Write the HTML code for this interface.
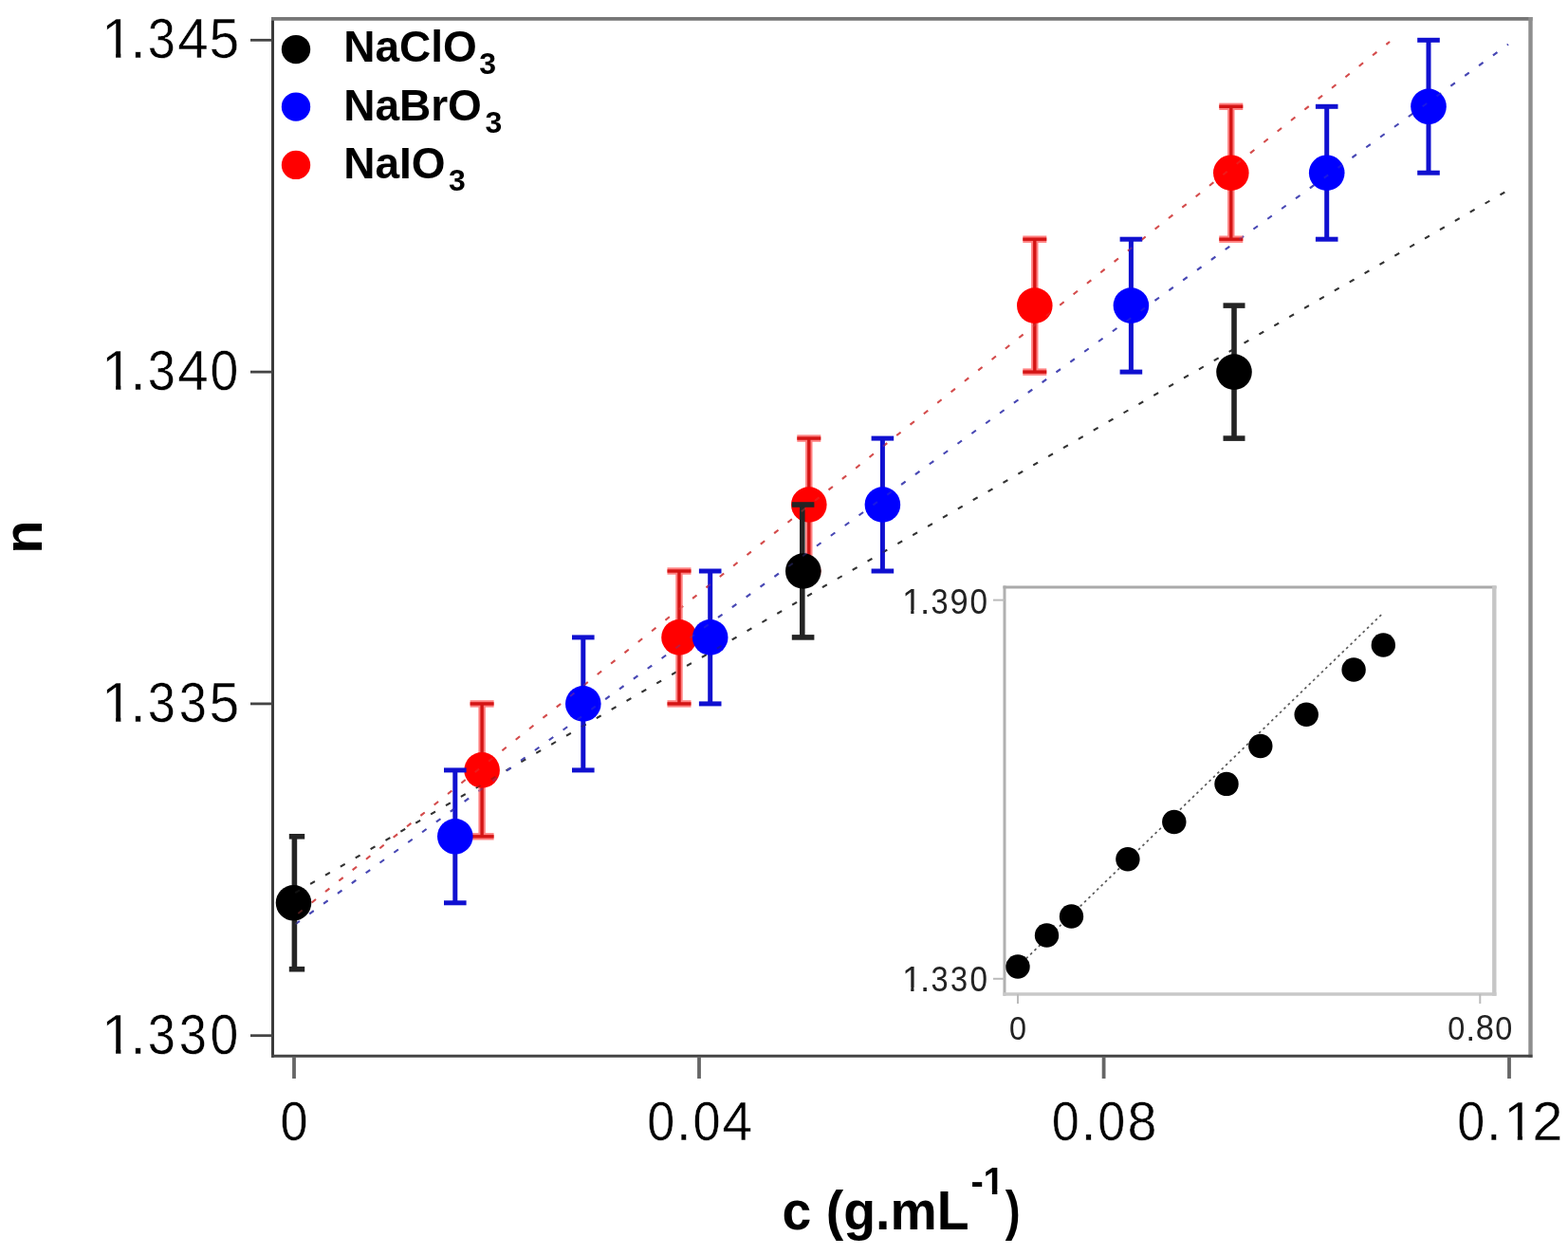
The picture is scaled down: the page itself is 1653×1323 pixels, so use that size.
<!DOCTYPE html><html><head><meta charset="utf-8"><style>html,body{margin:0;padding:0;background:#fff;overflow:hidden;}svg{display:block;}text{font-family:"Liberation Sans",Arial,sans-serif;}</style></head><body>
<svg width="1653" height="1323" viewBox="0 0 1653 1323">
<rect x="0" y="0" width="1653" height="1323" fill="#fff"/>
<g>
<g fill="none">
<line x1="287.5" y1="18" x2="287.5" y2="1114.8" stroke="#3a3a3a" stroke-width="3"/>
<line x1="286" y1="19.8" x2="1615.5" y2="19.8" stroke="#767676" stroke-width="3.8"/>
<line x1="1613.5" y1="18" x2="1613.5" y2="1114.8" stroke="#8e8e8e" stroke-width="4.4"/>
<line x1="286" y1="1113.3" x2="1615.5" y2="1113.3" stroke="#444" stroke-width="3"/>
<line x1="264" y1="42.3" x2="287" y2="42.3" stroke="#444" stroke-width="2.8"/>
<line x1="264" y1="392.1" x2="287" y2="392.1" stroke="#444" stroke-width="2.8"/>
<line x1="264" y1="741.9" x2="287" y2="741.9" stroke="#444" stroke-width="2.8"/>
<line x1="264" y1="1091.7" x2="287" y2="1091.7" stroke="#444" stroke-width="2.8"/>
<line x1="310" y1="1114" x2="310" y2="1137" stroke="#666" stroke-width="3.8"/>
<line x1="737" y1="1114" x2="737" y2="1137" stroke="#666" stroke-width="3.8"/>
<line x1="1163.6" y1="1114" x2="1163.6" y2="1137" stroke="#666" stroke-width="3.8"/>
<line x1="1591" y1="1114" x2="1591" y2="1137" stroke="#666" stroke-width="3.8"/>
</g>
<text x="107.10" y="61.30" font-size="59.5" fill="#000" clip-path="url(#c1_0)" stroke="#fff" stroke-width="0.5">1</text><text x="137.20" y="61.30" font-size="59.5" fill="#000" stroke="#fff" stroke-width="0.5">.</text><text x="170.27" y="61.30" font-size="59.5" fill="#000" text-anchor="middle" transform="matrix(0.88,0,0,1,20.43,0)" stroke="#fff" stroke-width="0.5">3</text><text x="203.36" y="61.30" font-size="59.5" fill="#000" text-anchor="middle" transform="matrix(0.98,0,0,1,4.07,0)" stroke="#fff" stroke-width="0.5">4</text><text x="236.45" y="61.30" font-size="59.5" fill="#000" text-anchor="middle" transform="matrix(0.96,0,0,1,9.46,0)" stroke="#fff" stroke-width="0.5">5</text>
<text x="107.10" y="411.10" font-size="59.5" fill="#000" clip-path="url(#c1_1)" stroke="#fff" stroke-width="0.5">1</text><text x="137.20" y="411.10" font-size="59.5" fill="#000" stroke="#fff" stroke-width="0.5">.</text><text x="170.27" y="411.10" font-size="59.5" fill="#000" text-anchor="middle" transform="matrix(0.88,0,0,1,20.43,0)" stroke="#fff" stroke-width="0.5">3</text><text x="203.36" y="411.10" font-size="59.5" fill="#000" text-anchor="middle" transform="matrix(0.98,0,0,1,4.07,0)" stroke="#fff" stroke-width="0.5">4</text><text x="236.45" y="411.10" font-size="59.5" fill="#000" text-anchor="middle" transform="matrix(0.9,0,0,1,23.65,0)" stroke="#fff" stroke-width="0.5">0</text>
<text x="107.10" y="760.90" font-size="59.5" fill="#000" clip-path="url(#c1_2)" stroke="#fff" stroke-width="0.5">1</text><text x="137.20" y="760.90" font-size="59.5" fill="#000" stroke="#fff" stroke-width="0.5">.</text><text x="170.27" y="760.90" font-size="59.5" fill="#000" text-anchor="middle" transform="matrix(0.88,0,0,1,20.43,0)" stroke="#fff" stroke-width="0.5">3</text><text x="203.36" y="760.90" font-size="59.5" fill="#000" text-anchor="middle" transform="matrix(0.88,0,0,1,24.40,0)" stroke="#fff" stroke-width="0.5">3</text><text x="236.45" y="760.90" font-size="59.5" fill="#000" text-anchor="middle" transform="matrix(0.96,0,0,1,9.46,0)" stroke="#fff" stroke-width="0.5">5</text>
<text x="107.10" y="1110.70" font-size="59.5" fill="#000" clip-path="url(#c1_3)" stroke="#fff" stroke-width="0.5">1</text><text x="137.20" y="1110.70" font-size="59.5" fill="#000" stroke="#fff" stroke-width="0.5">.</text><text x="170.27" y="1110.70" font-size="59.5" fill="#000" text-anchor="middle" transform="matrix(0.88,0,0,1,20.43,0)" stroke="#fff" stroke-width="0.5">3</text><text x="203.36" y="1110.70" font-size="59.5" fill="#000" text-anchor="middle" transform="matrix(0.88,0,0,1,24.40,0)" stroke="#fff" stroke-width="0.5">3</text><text x="236.45" y="1110.70" font-size="59.5" fill="#000" text-anchor="middle" transform="matrix(0.9,0,0,1,23.65,0)" stroke="#fff" stroke-width="0.5">0</text>
<text x="310.00" y="1202.00" font-size="58" fill="#000" text-anchor="middle" transform="matrix(0.9,0,0,1,31.00,0)" stroke="#fff" stroke-width="0.5">0</text>
<text x="696.69" y="1202.00" font-size="58" fill="#000" text-anchor="middle" transform="matrix(0.9,0,0,1,69.67,0)" stroke="#fff" stroke-width="0.5">0</text><text x="712.81" y="1202.00" font-size="58" fill="#000" stroke="#fff" stroke-width="0.5">.</text><text x="745.06" y="1202.00" font-size="58" fill="#000" text-anchor="middle" transform="matrix(0.9,0,0,1,74.51,0)" stroke="#fff" stroke-width="0.5">0</text><text x="777.31" y="1202.00" font-size="58" fill="#000" text-anchor="middle" transform="matrix(0.98,0,0,1,15.55,0)" stroke="#fff" stroke-width="0.5">4</text>
<text x="1123.29" y="1202.00" font-size="58" fill="#000" text-anchor="middle" transform="matrix(0.9,0,0,1,112.33,0)" stroke="#fff" stroke-width="0.5">0</text><text x="1139.41" y="1202.00" font-size="58" fill="#000" stroke="#fff" stroke-width="0.5">.</text><text x="1171.66" y="1202.00" font-size="58" fill="#000" text-anchor="middle" transform="matrix(0.9,0,0,1,117.17,0)" stroke="#fff" stroke-width="0.5">0</text><text x="1203.91" y="1202.00" font-size="58" fill="#000" text-anchor="middle" transform="matrix(0.96,0,0,1,48.16,0)" stroke="#fff" stroke-width="0.5">8</text>
<text x="1550.69" y="1202.00" font-size="58" fill="#000" text-anchor="middle" transform="matrix(0.9,0,0,1,155.07,0)" stroke="#fff" stroke-width="0.5">0</text><text x="1566.81" y="1202.00" font-size="58" fill="#000" stroke="#fff" stroke-width="0.5">.</text><text x="1585.23" y="1202.00" font-size="58" fill="#000" clip-path="url(#c1_4)" stroke="#fff" stroke-width="0.5">1</text><text x="1615.19" y="1202.00" font-size="58" fill="#000" stroke="#fff" stroke-width="0.5">2</text>
<g fill="none">
<line x1="1059" y1="617.6" x2="1059" y2="1049.8" stroke="#b0b0b0" stroke-width="3"/>
<line x1="1057.5" y1="619" x2="1577.5" y2="619" stroke="#aaaaaa" stroke-width="2.8"/>
<line x1="1575.3" y1="617.6" x2="1575.3" y2="1049.8" stroke="#c6c6c6" stroke-width="4.4"/>
<line x1="1057.5" y1="1048" x2="1577.5" y2="1048" stroke="#c8c8c8" stroke-width="3.6"/>
<line x1="1047" y1="632.6" x2="1059" y2="632.6" stroke="#bbb" stroke-width="2"/>
<line x1="1047" y1="1031.8" x2="1059" y2="1031.8" stroke="#bbb" stroke-width="2"/>
<line x1="1073" y1="1048" x2="1073" y2="1058" stroke="#bbb" stroke-width="2"/>
<line x1="1560.3" y1="1048" x2="1560.3" y2="1058" stroke="#bbb" stroke-width="2"/>
</g>
<text x="950.91" y="647.00" font-size="37" fill="#222" clip-path="url(#c1_5)">1</text><text x="969.99" y="647.00" font-size="37" fill="#222">.</text><text x="990.56" y="647.00" font-size="37" fill="#222" text-anchor="middle" transform="matrix(0.88,0,0,1,118.87,0)">3</text><text x="1011.13" y="647.00" font-size="37" fill="#222" text-anchor="middle" transform="matrix(0.93,0,0,1,70.78,0)">9</text><text x="1031.71" y="647.00" font-size="37" fill="#222" text-anchor="middle" transform="matrix(0.9,0,0,1,103.17,0)">0</text>
<text x="950.91" y="1045.00" font-size="37" fill="#222" clip-path="url(#c1_6)">1</text><text x="969.99" y="1045.00" font-size="37" fill="#222">.</text><text x="990.56" y="1045.00" font-size="37" fill="#222" text-anchor="middle" transform="matrix(0.88,0,0,1,118.87,0)">3</text><text x="1011.13" y="1045.00" font-size="37" fill="#222" text-anchor="middle" transform="matrix(0.88,0,0,1,121.34,0)">3</text><text x="1031.71" y="1045.00" font-size="37" fill="#222" text-anchor="middle" transform="matrix(0.9,0,0,1,103.17,0)">0</text>
<text x="1073.00" y="1096.50" font-size="36" fill="#222" text-anchor="middle" transform="matrix(0.9,0,0,1,107.30,0)">0</text>
<text x="1535.28" y="1096.50" font-size="36" fill="#222" text-anchor="middle" transform="matrix(0.9,0,0,1,153.53,0)">0</text><text x="1545.29" y="1096.50" font-size="36" fill="#222">.</text><text x="1565.30" y="1096.50" font-size="36" fill="#222" text-anchor="middle" transform="matrix(0.96,0,0,1,62.61,0)">8</text><text x="1585.32" y="1096.50" font-size="36" fill="#222" text-anchor="middle" transform="matrix(0.9,0,0,1,158.53,0)">0</text>
<line x1="1073" y1="1019" x2="1456.4" y2="647.8" stroke="#5a5a5a" stroke-width="1.7" stroke-dasharray="2.6 3.5"/>
<g fill="#000">
<circle cx="1073" cy="1019" r="12.7"/>
<circle cx="1103.5" cy="986" r="12.7"/>
<circle cx="1129.5" cy="966" r="12.7"/>
<circle cx="1188.9" cy="905.8" r="12.7"/>
<circle cx="1237.8" cy="866.5" r="12.7"/>
<circle cx="1293" cy="826.4" r="12.7"/>
<circle cx="1328.8" cy="786.5" r="12.7"/>
<circle cx="1377.2" cy="753.3" r="12.7"/>
<circle cx="1427.1" cy="706" r="12.7"/>
<circle cx="1458.3" cy="680" r="12.7"/>
</g>
<g fill="none" stroke-width="2" stroke-dasharray="5.5 12.85"><line x1="310" y1="941.85" x2="1590" y2="200.4" stroke="#333" stroke-dashoffset="-1.45"/><line x1="310" y1="975.2" x2="1590" y2="46.7" stroke="#4848b4" stroke-dashoffset="-1.75"/><line x1="310" y1="966.4" x2="1465" y2="44.0" stroke="#d44c4c" stroke-dashoffset="-5.55"/></g>
<line x1="508.1" y1="741.9" x2="508.1" y2="881.8" stroke="#ff8080" stroke-width="7.4"/><line x1="495.6" y1="741.9" x2="520.6" y2="741.9" stroke="#ff8080" stroke-width="7.4"/><line x1="495.6" y1="881.8" x2="520.6" y2="881.8" stroke="#ff8080" stroke-width="7.4"/>
<line x1="508.1" y1="741.9" x2="508.1" y2="881.8" stroke="#d41414" stroke-width="3.4"/><line x1="495.6" y1="741.9" x2="520.6" y2="741.9" stroke="#d41414" stroke-width="3.4"/><line x1="495.6" y1="881.8" x2="520.6" y2="881.8" stroke="#d41414" stroke-width="3.4"/>
<circle cx="508.1" cy="811.9" r="18.8" fill="#ff0000"/>
<line x1="716.0" y1="602.0" x2="716.0" y2="741.9" stroke="#ff8080" stroke-width="7.4"/><line x1="703.5" y1="602.0" x2="728.5" y2="602.0" stroke="#ff8080" stroke-width="7.4"/><line x1="703.5" y1="741.9" x2="728.5" y2="741.9" stroke="#ff8080" stroke-width="7.4"/>
<line x1="716.0" y1="602.0" x2="716.0" y2="741.9" stroke="#d41414" stroke-width="3.4"/><line x1="703.5" y1="602.0" x2="728.5" y2="602.0" stroke="#d41414" stroke-width="3.4"/><line x1="703.5" y1="741.9" x2="728.5" y2="741.9" stroke="#d41414" stroke-width="3.4"/>
<circle cx="716.0" cy="671.9" r="18.8" fill="#ff0000"/>
<line x1="852.8" y1="462.1" x2="852.8" y2="602.0" stroke="#ff8080" stroke-width="7.4"/><line x1="840.3" y1="462.1" x2="865.3" y2="462.1" stroke="#ff8080" stroke-width="7.4"/><line x1="840.3" y1="602.0" x2="865.3" y2="602.0" stroke="#ff8080" stroke-width="7.4"/>
<line x1="852.8" y1="462.1" x2="852.8" y2="602.0" stroke="#d41414" stroke-width="3.4"/><line x1="840.3" y1="462.1" x2="865.3" y2="462.1" stroke="#d41414" stroke-width="3.4"/><line x1="840.3" y1="602.0" x2="865.3" y2="602.0" stroke="#d41414" stroke-width="3.4"/>
<circle cx="852.8" cy="532.0" r="18.8" fill="#ff0000"/>
<line x1="1090.8" y1="252.2" x2="1090.8" y2="392.1" stroke="#ff8080" stroke-width="7.4"/><line x1="1078.3" y1="252.2" x2="1103.3" y2="252.2" stroke="#ff8080" stroke-width="7.4"/><line x1="1078.3" y1="392.1" x2="1103.3" y2="392.1" stroke="#ff8080" stroke-width="7.4"/>
<line x1="1090.8" y1="252.2" x2="1090.8" y2="392.1" stroke="#d41414" stroke-width="3.4"/><line x1="1078.3" y1="252.2" x2="1103.3" y2="252.2" stroke="#d41414" stroke-width="3.4"/><line x1="1078.3" y1="392.1" x2="1103.3" y2="392.1" stroke="#d41414" stroke-width="3.4"/>
<circle cx="1090.8" cy="322.1" r="18.8" fill="#ff0000"/>
<line x1="1297.8" y1="112.3" x2="1297.8" y2="252.2" stroke="#ff8080" stroke-width="7.4"/><line x1="1285.3" y1="112.3" x2="1310.3" y2="112.3" stroke="#ff8080" stroke-width="7.4"/><line x1="1285.3" y1="252.2" x2="1310.3" y2="252.2" stroke="#ff8080" stroke-width="7.4"/>
<line x1="1297.8" y1="112.3" x2="1297.8" y2="252.2" stroke="#d41414" stroke-width="3.4"/><line x1="1285.3" y1="112.3" x2="1310.3" y2="112.3" stroke="#d41414" stroke-width="3.4"/><line x1="1285.3" y1="252.2" x2="1310.3" y2="252.2" stroke="#d41414" stroke-width="3.4"/>
<circle cx="1297.8" cy="182.2" r="18.8" fill="#ff0000"/>
<line x1="479.8" y1="811.9" x2="479.8" y2="951.8" stroke="#1010d0" stroke-width="5.0"/><line x1="468.0" y1="811.9" x2="491.6" y2="811.9" stroke="#1010d0" stroke-width="5.0"/><line x1="468.0" y1="951.8" x2="491.6" y2="951.8" stroke="#1010d0" stroke-width="5.0"/>
<circle cx="479.8" cy="881.8" r="18.8" fill="#0000ff"/>
<line x1="614.8" y1="671.9" x2="614.8" y2="811.9" stroke="#1010d0" stroke-width="5.0"/><line x1="603.0" y1="671.9" x2="626.6" y2="671.9" stroke="#1010d0" stroke-width="5.0"/><line x1="603.0" y1="811.9" x2="626.6" y2="811.9" stroke="#1010d0" stroke-width="5.0"/>
<circle cx="614.8" cy="741.9" r="18.8" fill="#0000ff"/>
<line x1="748.7" y1="602.0" x2="748.7" y2="741.9" stroke="#1010d0" stroke-width="5.0"/><line x1="736.9" y1="602.0" x2="760.5" y2="602.0" stroke="#1010d0" stroke-width="5.0"/><line x1="736.9" y1="741.9" x2="760.5" y2="741.9" stroke="#1010d0" stroke-width="5.0"/>
<circle cx="748.7" cy="671.9" r="18.8" fill="#0000ff"/>
<line x1="930.4" y1="462.1" x2="930.4" y2="602.0" stroke="#1010d0" stroke-width="5.0"/><line x1="918.6" y1="462.1" x2="942.2" y2="462.1" stroke="#1010d0" stroke-width="5.0"/><line x1="918.6" y1="602.0" x2="942.2" y2="602.0" stroke="#1010d0" stroke-width="5.0"/>
<circle cx="930.4" cy="532.0" r="18.8" fill="#0000ff"/>
<line x1="1192.4" y1="252.2" x2="1192.4" y2="392.1" stroke="#1010d0" stroke-width="5.0"/><line x1="1180.6" y1="252.2" x2="1204.2" y2="252.2" stroke="#1010d0" stroke-width="5.0"/><line x1="1180.6" y1="392.1" x2="1204.2" y2="392.1" stroke="#1010d0" stroke-width="5.0"/>
<circle cx="1192.4" cy="322.1" r="18.8" fill="#0000ff"/>
<line x1="1398.7" y1="112.3" x2="1398.7" y2="252.2" stroke="#1010d0" stroke-width="5.0"/><line x1="1386.9" y1="112.3" x2="1410.5" y2="112.3" stroke="#1010d0" stroke-width="5.0"/><line x1="1386.9" y1="252.2" x2="1410.5" y2="252.2" stroke="#1010d0" stroke-width="5.0"/>
<circle cx="1398.7" cy="182.2" r="18.8" fill="#0000ff"/>
<line x1="1506.0" y1="42.3" x2="1506.0" y2="182.2" stroke="#1010d0" stroke-width="5.0"/><line x1="1494.2" y1="42.3" x2="1517.8" y2="42.3" stroke="#1010d0" stroke-width="5.0"/><line x1="1494.2" y1="182.2" x2="1517.8" y2="182.2" stroke="#1010d0" stroke-width="5.0"/>
<circle cx="1506.0" cy="112.3" r="18.8" fill="#0000ff"/>
<line x1="310.4" y1="881.8" x2="310.4" y2="1021.7" stroke="#242424" stroke-width="5.6"/><line x1="304.8" y1="881.8" x2="321.2" y2="881.8" stroke="#242424" stroke-width="5.6"/><line x1="304.8" y1="1021.7" x2="321.2" y2="1021.7" stroke="#242424" stroke-width="5.6"/>
<circle cx="309.5" cy="951.8" r="18.8" fill="#000"/>
<line x1="845.8" y1="532.0" x2="845.8" y2="671.9" stroke="#242424" stroke-width="5.6"/><line x1="834.8" y1="532.0" x2="858.4" y2="532.0" stroke="#242424" stroke-width="5.6"/><line x1="834.8" y1="671.9" x2="858.4" y2="671.9" stroke="#242424" stroke-width="5.6"/>
<circle cx="846.8" cy="602.0" r="18.8" fill="#000"/>
<line x1="1301.0" y1="322.1" x2="1301.0" y2="462.1" stroke="#242424" stroke-width="5.6"/><line x1="1289.5" y1="322.1" x2="1312.5" y2="322.1" stroke="#242424" stroke-width="5.6"/><line x1="1289.5" y1="462.1" x2="1312.5" y2="462.1" stroke="#242424" stroke-width="5.6"/>
<circle cx="1301.0" cy="392.1" r="18.8" fill="#000"/>
<g fill="none" stroke-width="2" stroke-dasharray="5.5 12.85" opacity="0.35"><line x1="310" y1="941.85" x2="1590" y2="200.4" stroke="#333" stroke-dashoffset="-1.45"/><line x1="310" y1="975.2" x2="1590" y2="46.7" stroke="#4848b4" stroke-dashoffset="-1.75"/><line x1="310" y1="966.4" x2="1465" y2="44.0" stroke="#d44c4c" stroke-dashoffset="-5.55"/></g>
<circle cx="312" cy="52.1" r="15.2" fill="#000"/>
<circle cx="312" cy="112.6" r="15.2" fill="#0000ff"/>
<circle cx="312" cy="173.9" r="15.2" fill="#ff0000"/>
<g font-size="46" font-weight="bold" fill="#000">
<text x="362.2" y="65.4">NaClO<tspan font-size="32" dx="2.5" dy="12.6">3</tspan></text>
<text x="362.2" y="127.4">NaBrO<tspan font-size="32" dx="3.5" dy="12.6">3</tspan></text>
<text x="362.2" y="187.9">NaIO<tspan font-size="32" dx="3.5" dy="12.6">3</tspan></text>
</g>
<text transform="translate(44.1,566) rotate(-90)" text-anchor="middle" font-size="58" font-weight="bold">n</text>
<text x="824.6" y="1295.8" font-size="57" font-weight="bold" textLength="197" lengthAdjust="spacingAndGlyphs">c (g.mL</text>
<text x="1023.50" y="1259.00" font-size="40" font-weight="bold" fill="#000">-</text><text x="1036.52" y="1259.00" font-size="40" font-weight="bold" fill="#000" clip-path="url(#c1_7)">1</text>
<text x="1058.5" y="1295.8" font-size="57" font-weight="bold" transform="matrix(0.84,0,0,1,170.6,0)">)</text>
</g>
<defs><clipPath id="c1_0"><rect x="105.10" y="17.72" width="37.09" height="37.93"/><rect x="122.07" y="54.85" width="5.26" height="7.45"/></clipPath><clipPath id="c1_1"><rect x="105.10" y="367.52" width="37.09" height="37.93"/><rect x="122.07" y="404.65" width="5.26" height="7.45"/></clipPath><clipPath id="c1_2"><rect x="105.10" y="717.32" width="37.09" height="37.93"/><rect x="122.07" y="754.45" width="5.26" height="7.45"/></clipPath><clipPath id="c1_3"><rect x="105.10" y="1067.12" width="37.09" height="37.93"/><rect x="122.07" y="1104.25" width="5.26" height="7.45"/></clipPath><clipPath id="c1_4"><rect x="1583.23" y="1159.52" width="36.26" height="36.95"/><rect x="1599.81" y="1195.67" width="5.13" height="7.33"/></clipPath><clipPath id="c1_5"><rect x="948.91" y="619.90" width="24.58" height="23.14"/><rect x="960.21" y="642.24" width="3.27" height="5.76"/></clipPath><clipPath id="c1_6"><rect x="948.91" y="1017.90" width="24.58" height="23.14"/><rect x="960.21" y="1040.24" width="3.27" height="5.76"/></clipPath><clipPath id="c1_7"><rect x="1034.52" y="1229.70" width="26.25" height="24.01"/><rect x="1045.86" y="1252.92" width="5.49" height="7.08"/></clipPath></defs>
</svg></body></html>
